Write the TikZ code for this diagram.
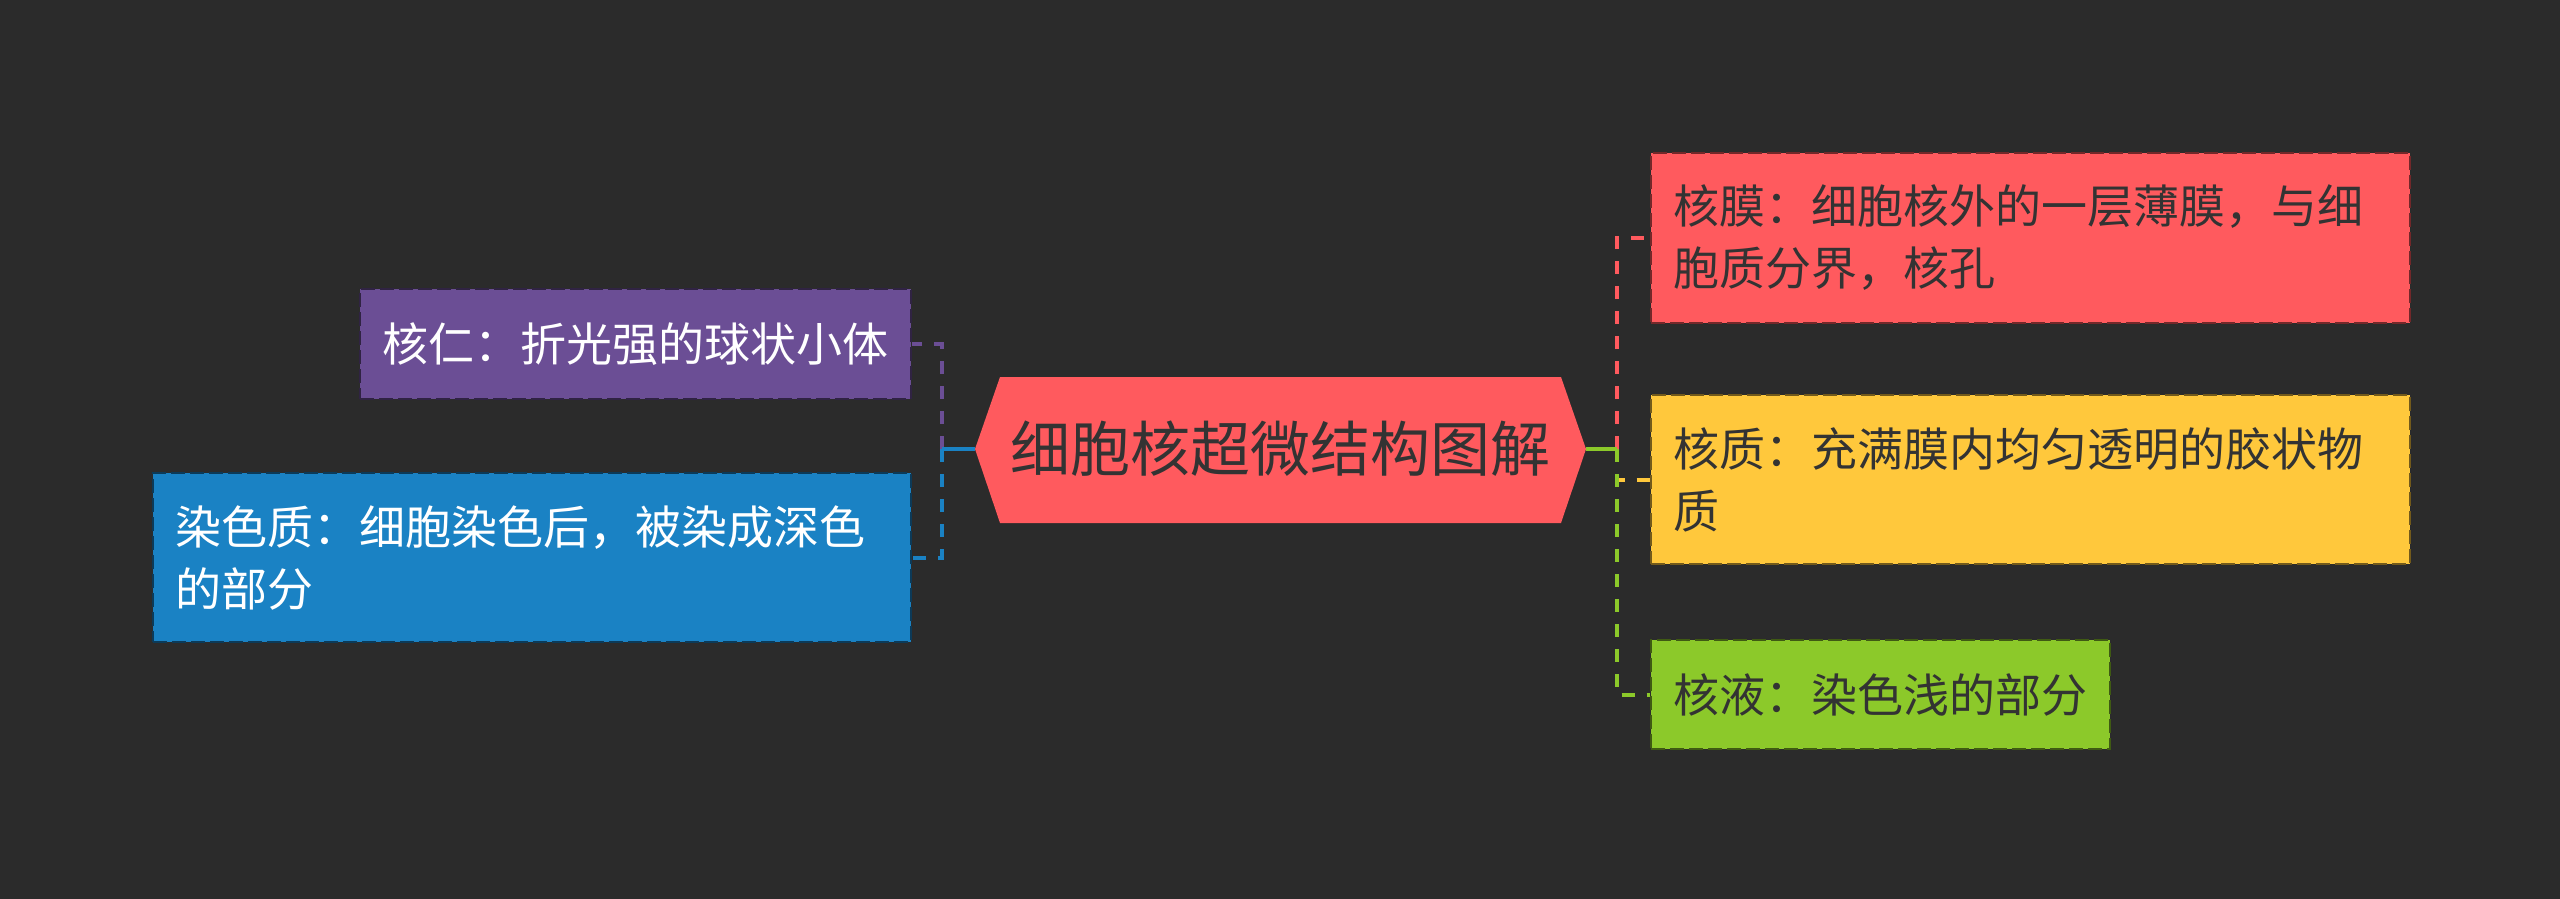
\documentclass[tikz,border=0pt]{standalone}
\usepackage{fontspec}
\newfontfamily\cjk{Noto Sans CJK SC}
\definecolor{bg}{HTML}{2B2B2B}
\definecolor{cred}{HTML}{FF5A5E}
\definecolor{cyellow}{HTML}{FFC83C}
\definecolor{cgreen}{HTML}{8CC92A}
\definecolor{cpurple}{HTML}{6B4E95}
\definecolor{cblue}{HTML}{1A82C4}
\definecolor{tdark}{HTML}{333333}
\tikzset{
  leaf/.style={rectangle, inner xsep=11pt, inner ysep=0pt, align=left,
    font=\cjk\fontsize{23pt}{31pt}\selectfont, anchor=north west,
    line width=1pt, dash pattern=on 7pt off 2.5pt},
  conn/.style={line width=2pt, dash pattern=on 6.5pt off 6pt},
  trunk/.style={line width=2pt},
}
\begin{document}
\begin{tikzpicture}[x=0.5pt,y=-0.5pt]
\fill[bg] (0,0) rectangle (2560,899);
\useasboundingbox (0,0) rectangle (2560,899);
% central hexagon
\coordinate (rootW) at (975,449);
\coordinate (rootE) at (1586,449);
\fill[cred] (rootW) -- (1000,377) -- (1561,377) -- (rootE) -- (1561,523) -- (1000,523) -- cycle;
\node[font=\cjk\fontsize{30pt}{36pt}\selectfont, text=tdark, inner sep=0pt] (root) at (1280.5,449) {细胞核超微结构图解};
% spine points
\coordinate (sR) at (1617,449);
\coordinate (sL) at (942,449);
% right leaves
\node[leaf, fill=cred, draw=cred!45!black, text=tdark, text width=357.5pt, minimum height=85pt] (mo) at (1650,152)
  {核膜：细胞核外的一层薄膜，与细\\胞质分界，核孔};
\node[leaf, fill=cyellow, draw=cyellow!45!black, text=tdark, text width=357.5pt, minimum height=84.5pt] (zhi) at (1650,394)
  {核质：充满膜内均匀透明的胶状物\\质};
\node[leaf, fill=cgreen, draw=cgreen!45!black, text=tdark, text width=207.5pt, minimum height=54.5pt] (ye) at (1650,639)
  {核液：染色浅的部分};
% left leaves
\node[leaf, fill=cpurple, draw=cpurple!45!black, text=white, text width=253.5pt, minimum height=55pt] (ren) at (359,288)
  {核仁：折光强的球状小体};
\node[leaf, fill=cblue, draw=cblue!45!black, text=white, text width=357pt, minimum height=84.5pt] (ranse) at (152,472)
  {染色质：细胞染色后，被染成深色\\的部分};
% connectors right
\draw[conn, cred] (sR) |- (mo.west);
\draw[conn, cyellow] (sR) |- (zhi.west);
\draw[conn, cgreen] (sR) |- (ye.west);
\draw[trunk, cgreen] (rootE) -- (sR);
% connectors left
\draw[conn, cpurple] (sL) |- (ren.east);
\draw[conn, cblue] (sL) |- (ranse.east);
\draw[trunk, cblue] (rootW) -- (sL);
\end{tikzpicture}
\end{document}
